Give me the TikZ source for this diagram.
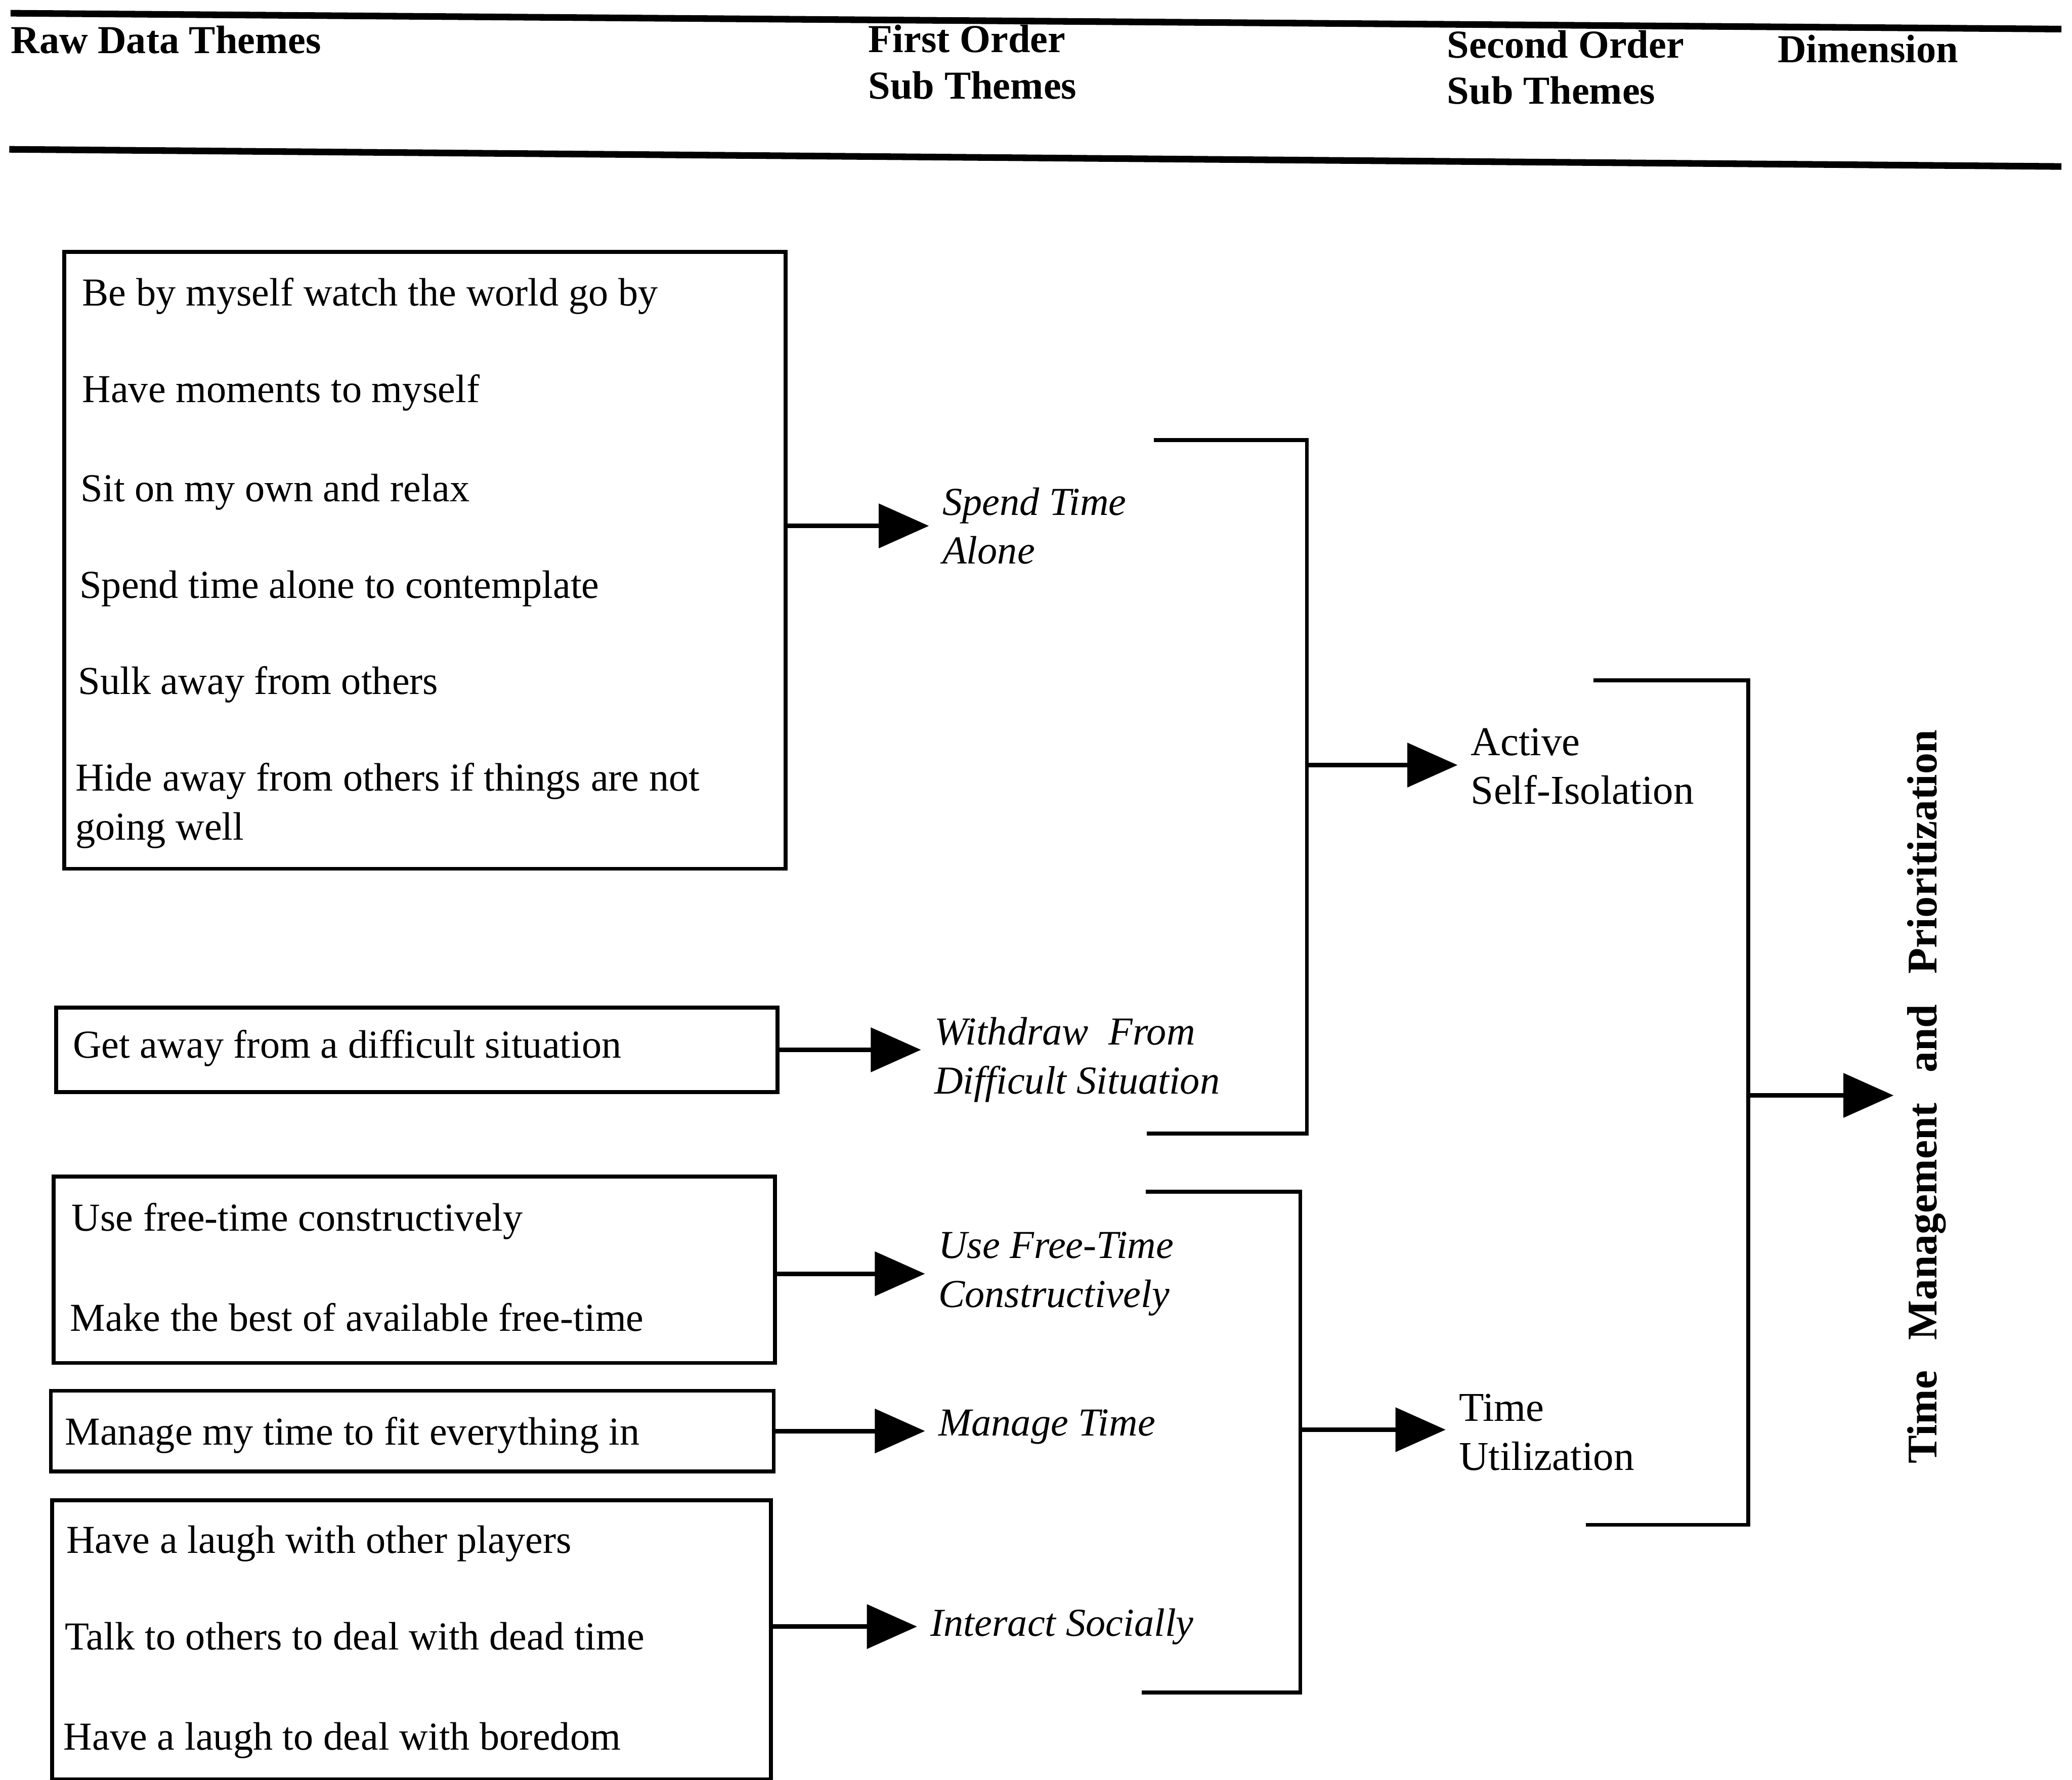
\documentclass[tikz,border=0pt]{standalone}
\usepackage{fontspec}
\setmainfont{Liberation Serif}
\usetikzlibrary{arrows.meta}
\begin{document}
\begin{tikzpicture}[x=1pt,y=-1pt,
  rule/.style={line width=5pt},
  frame/.style={draw, line width=3pt, rectangle, inner sep=0pt, anchor=north west},
  item/.style={anchor=base west, inner sep=0pt,
    font=\fontsize{30}{36}\selectfont},
  head/.style={anchor=west, inner sep=0pt, align=left,
    font=\fontsize{30}{35}\selectfont\bfseries},
  sub/.style={anchor=west, inner xsep=10pt, inner ysep=0pt, align=left,
    font=\fontsize{30}{37}\selectfont\itshape},
  second/.style={anchor=west, inner xsep=10pt, inner ysep=0pt, align=left,
    font=\fontsize{31}{37}\selectfont},
  dimlabel/.style={anchor=north, inner xsep=0pt, inner ysep=10pt,
    font=\fontsize{32}{36}\selectfont\bfseries},
  link/.style={line width=3.5pt, -{Triangle[length=38pt,width=33pt]}},
  bracket/.style={line width=3pt},
]
\useasboundingbox (0,0) rectangle (1568,1347);

% column headings between two rules
\coordinate (r1a) at (8,10);   \coordinate (r1b) at (1560,22);
\coordinate (r2a) at (7,113);  \coordinate (r2b) at (1560,126);
\draw[rule] (r1a) -- (r1b);
\draw[rule] (r2a) -- (r2b);
\node[head] (h1) at (8,30) {Raw Data Themes};
\node[head] (h2) at (657,47) {First Order\\Sub Themes};
\node[head] (h3) at (1095,51) {Second Order\\Sub Themes};
\node[head] (h4) at (1345,37) {Dimension};

% raw data theme boxes
\node[frame, minimum width=546pt, minimum height=467pt] (b1) at (47,189) {};
\node[frame, minimum width=546pt, minimum height=64pt]  (b2) at (41,761) {};
\node[frame, minimum width=546pt, minimum height=141pt] (b3) at (39,889) {};
\node[frame, minimum width=547pt, minimum height=61pt]  (b4) at (37,1051) {};
\node[frame, minimum width=544pt, minimum height=211pt] (b5) at (38,1134) {};

\node[item] (t11) at (62,231.5)  {Be by myself watch the world go by};
\node[item] (t12) at (62,304.5)  {Have moments to myself};
\node[item] (t13) at (61,379.5)  {Sit on my own and relax};
\node[item] (t14) at (60,452.5)  {Spend time alone to contemplate};
\node[item] (t15) at (59,525.5)  {Sulk away from others};
\node[item] (t16) at (57,598.5)  {Hide away from others if things are not};
\node[item] (t17) at (57,635.5)  {going well};
\node[item] (t21) at (55,800.5)  {Get away from a difficult situation};
\node[item] (t31) at (54,931.5)  {Use free-time constructively};
\node[item] (t32) at (53,1007.5) {Make the best of available free-time};
\node[item] (t41) at (49,1093.5) {Manage my time to fit everything in};
\node[item] (t51) at (50,1175.5) {Have a laugh with other players};
\node[item] (t52) at (49,1248.5) {Talk to others to deal with dead time};
\node[item] (t53) at (48,1324.5) {Have a laugh to deal with boredom};

% first order sub themes
\node[sub] (st) at (703,398)  {Spend Time\\Alone};
\node[sub] (wd) at (697,802)  {Withdraw\ \ From\\Difficult Situation};
\node[sub] (uf) at (700,964)  {Use Free-Time\\Constructively};
\node[sub] (mt) at (700,1080) {Manage Time};
\node[sub] (is) at (694,1231) {Interact Socially};

\draw[link] (b1.east |- st.west) -- (st.west);
\draw[link] (b2.east) -- (b2.east -| wd.west);
\draw[link] (b3.east |- uf.west) -- (uf.west);
\draw[link] (b4.east) -- (b4.east -| mt.west);
\draw[link] (b5.east |- is.west) -- (is.west);

% second order sub themes
\node[second] (asi) at (1103,580)  {Active\\Self-Isolation};
\node[second] (tu)  at (1094,1084) {Time\\Utilization};

\coordinate (k1a) at (873,333);  \coordinate (k1m) at (989,579);  \coordinate (k1b) at (868,858);
\coordinate (k2a) at (867,902);  \coordinate (k2m) at (984,1082); \coordinate (k2b) at (864,1281);
\draw[bracket] (k1a) -| (k1m) |- (k1b);
\draw[bracket] (k2a) -| (k2m) |- (k2b);
\draw[link] (k1m) -- (k1m -| asi.west);
\draw[link] (k2m) -- (k2m -| tu.west);

% dimension
\node[dimlabel, rotate=90] (dim) at (1433,830)
  {Time\hspace{0.72em}Management\hspace{0.72em}and\hspace{0.72em}Prioritization};
\coordinate (k3a) at (1206,515); \coordinate (k3m) at (1323,829); \coordinate (k3b) at (1200,1154);
\draw[bracket] (k3a) -| (k3m) |- (k3b);
\draw[link] (k3m) -- (k3m -| dim.north);
\end{tikzpicture}
\end{document}
